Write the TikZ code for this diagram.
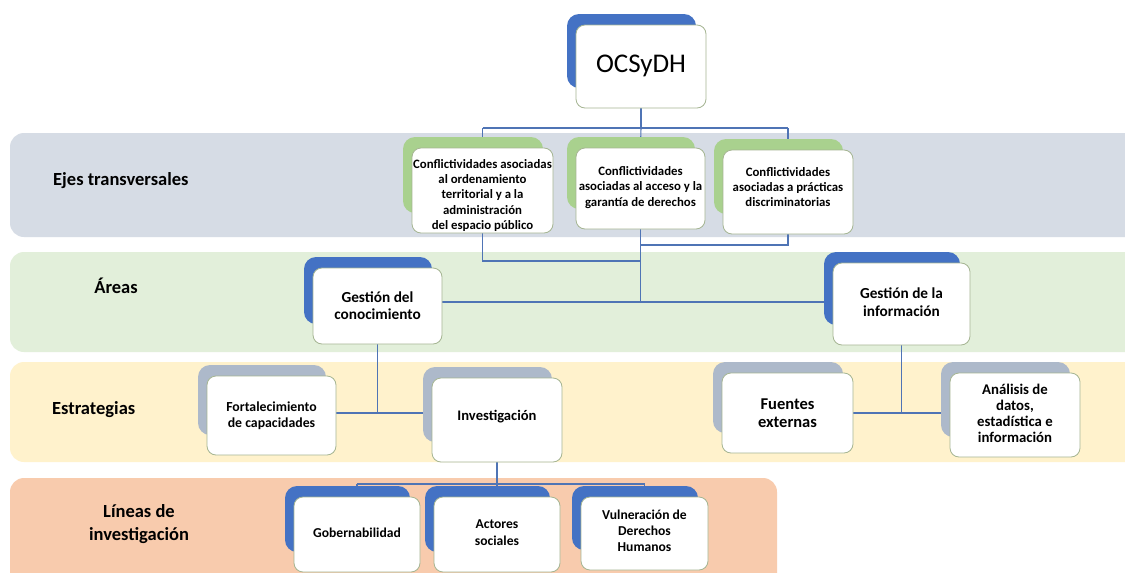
\documentclass[tikz,border=0pt]{standalone}
\usepackage{fontspec}
\setmainfont{Carlito}
\definecolor{bandA}{HTML}{D6DCE5}
\definecolor{bandB}{HTML}{E2EFDA}
\definecolor{bandC}{HTML}{FFF2CC}
\definecolor{bandD}{HTML}{F8CBAD}
\definecolor{bkblue}{HTML}{4472C4}
\definecolor{bkgreen}{HTML}{A9D18E}
\definecolor{bkgray}{HTML}{ADB9CA}
\definecolor{edgecol}{HTML}{A5B592}
\definecolor{conncol}{HTML}{4F74B5}
\pgfdeclarelayer{bandlayer}
\pgfdeclarelayer{linelayer}
\pgfsetlayers{bandlayer,linelayer,main}
\tikzset{
  band/.style={rounded corners=14pt},
  front/.style={draw=edgecol, line width=0.8pt, fill=white, rounded corners=9pt, inner sep=0pt},
  boxtext/.style={align=center, inner sep=0pt, transform shape},
  conline/.style={draw=conncol, line width=1.1pt},
  backshape/.style={rounded corners=12pt},
  bandlabel/.style={font=\bfseries\fontsize{18.5}{22.5}\selectfont, align=center, inner sep=0pt}
}
% name, x1, y1, x2, y2, back colour, text options, text
\newcommand\stackbox[8]{%
  \fill[#6, backshape] (#2-9,#3-11) rectangle (#4-10,#5-20);
  \node[front, minimum width={#4pt-#2pt}, minimum height={#5pt-#3pt}] (#1) at ({(#2+#4)/2},{(#3+#5)/2}) {};
  \node[boxtext, #7] (#1-t) at (#1.center) {#8};
}
\begin{document}
\begin{tikzpicture}[x=1pt,y=-1pt]
\useasboundingbox (0,0) rectangle (1125,573);
\begin{pgfonlayer}{bandlayer}
  \fill[white] (0,0) rectangle (1125,573);
  \fill[bandA, band] (10,133) rectangle (1145,237);
  \fill[bandB, band] (10,252) rectangle (1145,352);
  \fill[bandC, band] (10,362) rectangle (1145,462);
  \fill[bandD, band] (10,478) rectangle (777,595);
\end{pgfonlayer}
\node[bandlabel, anchor=west] (lab1) at (53,181) {Ejes transversales};
\node[bandlabel] (lab2) at (116,286) {Áreas};
\node[bandlabel, anchor=west] (lab3) at (52,410) {Estrategias};
\node[bandlabel] (lab4) at (139,524) {Líneas de\\investigación};

\stackbox{ocs}{576}{25}{706}{108}{bkblue}{font=\fontsize{27}{30}\selectfont, yshift=1pt}{OCSyDH}

\stackbox{e1}{412}{148}{553}{233}{bkgreen}{font=\fontsize{12.8}{15.3}\selectfont\bfseries, yshift=-5pt}{Conflictividades asociadas\\al ordenamiento\\territorial y a la\\administración\\del espacio público}
\stackbox{e2}{576}{148}{705}{229}{bkgreen}{font=\fontsize{12.8}{15.3}\selectfont\bfseries, yshift=1pt}{Conflictividades\\asociadas al acceso y la\\garantía de derechos}
\stackbox{e3}{723}{150}{853}{234}{bkgreen}{font=\fontsize{12.8}{15.3}\selectfont\bfseries, yshift=5pt}{Conflictividades\\asociadas a prácticas\\discriminatorias}

\stackbox{gc}{313}{268}{442}{344}{bkblue}{font=\fontsize{15.3}{17}\selectfont\bfseries}{Gestión del\\conocimiento}
\stackbox{gi}{833}{263}{970}{345}{bkblue}{font=\fontsize{15.3}{17.5}\selectfont\bfseries, yshift=2pt}{Gestión de la\\información}

\stackbox{fc}{207}{376}{336}{455}{bkgray}{font=\fontsize{13.8}{16}\selectfont\bfseries}{Fortalecimiento\\de capacidades}
\stackbox{inv}{432}{378}{562}{462}{bkgray}{font=\fontsize{14.6}{16}\selectfont\bfseries, yshift=3pt}{Investigación}
\stackbox{fe}{722}{373}{853}{453}{bkgray}{font=\fontsize{16.5}{18.5}\selectfont\bfseries}{Fuentes\\externas}
\stackbox{an}{950}{373}{1080}{457}{bkgray}{font=\fontsize{14.8}{16}\selectfont\bfseries, yshift=2pt}{Análisis de\\datos,\\estadística e\\información}

\stackbox{gob}{294}{497}{420}{572}{bkblue}{font=\fontsize{13.6}{16}\selectfont\bfseries, yshift=2pt}{Gobernabilidad}
\stackbox{act}{434}{497}{560}{572}{bkblue}{font=\fontsize{13.6}{17}\selectfont\bfseries, yshift=2pt}{Actores\\sociales}
\stackbox{vul}{581}{497}{708}{570}{bkblue}{font=\fontsize{13.6}{16}\selectfont\bfseries, yshift=3pt}{Vulneración de\\Derechos\\Humanos}

\begin{pgfonlayer}{linelayer}
  \coordinate (t) at (641,128);
  \draw[conline] (ocs.south) -- (t);
  \draw[conline] (e1.north |- t) -- (e3.north |- t);
  \draw[conline] (e1.north |- t) -- (e1.north);
  \draw[conline] (e3.north |- t) -- (e3.north);
  \draw[conline] (t) -- (e2.north);
  \coordinate (m1) at (641,261);
  \coordinate (m2) at (641,245);
  \coordinate (h) at (641,302);
  \draw[conline] (e1.south) |- (m1);
  \draw[conline] (e3.south) |- (m2);
  \draw[conline] (e2.south) -- (e2.south |- h);
  \draw[conline] (gc.east |- h) -- (gi.west |- h);
  \coordinate (s1) at (378,413);
  \draw[conline] (gc.south) -- (gc.south |- s1);
  \draw[conline] (fc.east |- s1) -- (inv.west |- s1);
  \coordinate (s2) at (902,413);
  \draw[conline] (gi.south) -- (gi.south |- s2);
  \draw[conline] (fe.east |- s2) -- (an.west |- s2);
  \coordinate (l) at (497,484);
  \draw[conline] (inv.south) -- (inv.south |- act.north);
  \draw[conline] (gob.north |- l) -- (vul.north |- l);
  \draw[conline] (gob.north |- l) -- (gob.north);
  \draw[conline] (vul.north |- l) -- (vul.north);
\end{pgfonlayer}
\end{tikzpicture}
\end{document}
